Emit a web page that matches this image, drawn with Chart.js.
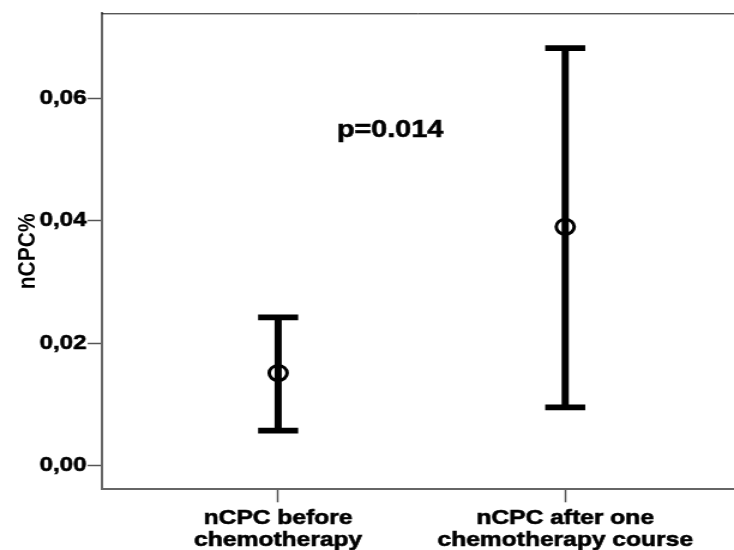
<!DOCTYPE html>
<html>
<head>
<meta charset="utf-8">
<script src="https://cdn.jsdelivr.net/npm/chart.js@4/dist/chart.umd.min.js"></script>
<style>
  html, body { margin: 0; padding: 0; background: #fff; }
  #c { display: block; width: 734px; height: 550px; }
</style>
</head>
<body>
<canvas id="c" width="612" height="550" style="width:734px;height:550px;"></canvas>
<script>
// ---- data ----
const categories = [["nCPC before", "chemotherapy"], ["nCPC after one", "chemotherapy course"]];
const categoryPositions = [1, 2];
const means = [0.0151, 0.0390];
const lowerCI = [0.0057, 0.0095];
const upperCI = [0.0242, 0.0682];
const yTickValues = [0, 0.02, 0.04, 0.06];
const yAxisTitle = "nCPC%";
const pLabel = { text: "p=0.014", x: 1.39, y: 0.0536 };

const FONT = '"Liberation Sans", Arial, sans-serif';

const meanPoints = means.map((m, i) => ({ x: categoryPositions[i], y: m }));
const capPoints = [];
lowerCI.forEach((v, i) => capPoints.push({ x: categoryPositions[i], y: v }));
upperCI.forEach((v, i) => capPoints.push({ x: categoryPositions[i], y: v }));
const whiskerSets = categoryPositions.map((p, i) => ({
  type: 'line',
  data: [{ x: p, y: lowerCI[i] }, { x: p, y: upperCI[i] }],
  borderColor: '#000',
  borderWidth: 6,
  pointRadius: 0,
  fill: false,
  order: 3
}));

const extras = {
  id: 'extras',
  afterDatasetsDraw(chart) {
    const { ctx, chartArea, scales } = chart;
    ctx.save();
    ctx.strokeStyle = '#111';
    ctx.lineWidth = 1;
    ctx.beginPath();
    ctx.moveTo(chartArea.left, chartArea.top + 0.5);
    ctx.lineTo(chartArea.right, chartArea.top + 0.5);
    ctx.stroke();
    ctx.font = 'bold 24px ' + FONT;
    ctx.fillStyle = '#000';
    ctx.strokeStyle = '#000';
    ctx.lineWidth = 0.6;
    ctx.textAlign = 'center';
    ctx.textBaseline = 'alphabetic';
    const px = scales.x.getPixelForValue(pLabel.x), py = scales.y.getPixelForValue(pLabel.y);
    ctx.fillText(pLabel.text, px, py);
    ctx.strokeText(pLabel.text, px, py);
    ctx.restore();
  }
};

new Chart(document.getElementById('c'), {
  type: 'scatter',
  data: {
    datasets: [
      {
        data: meanPoints,
        pointStyle: 'circle',
        pointRadius: 7.5,
        pointBorderWidth: 3,
        pointBorderColor: '#000',
        pointBackgroundColor: 'rgba(0,0,0,0)',
        order: 1
      },
      {
        data: capPoints,
        pointStyle: 'line',
        pointRadius: 16.7,
        pointBorderWidth: 5.7,
        pointBorderColor: '#000',
        order: 2
      },
      ...whiskerSets
    ]
  },
  options: {
    responsive: false,
    animation: false,
    devicePixelRatio: 1,
    layout: { autoPadding: false, padding: { left: 0, right: 0, top: 13.3, bottom: 0 } },
    plugins: { legend: { display: false }, tooltip: { enabled: false } },
    events: [],
    scales: {
      x: {
        type: 'linear',
        min: 0.3852,
        max: 2.588,
        afterBuildTicks(scale) { scale.ticks = categoryPositions.map(v => ({ value: v })); },
        afterFit(scale) { scale.height = 60.7; },
        grid: { display: true, drawOnChartArea: false, drawTicks: true, tickLength: 13, tickColor: '#555', tickWidth: 1.5 },
        border: { display: true, color: '#666', width: 2 },
        ticks: {
          autoSkip: false,
          maxRotation: 0,
          padding: 4.5,
          color: '#000',
          textStrokeColor: '#000',
          textStrokeWidth: 0.6,
          font: { family: FONT, size: 20.5, weight: 'bold', lineHeight: 1.08 },
          callback: (v) => categories[categoryPositions.indexOf(v)]
        }
      },
      y: {
        type: 'linear',
        min: -0.00389,
        max: 0.07389,
        afterBuildTicks(scale) { scale.ticks = yTickValues.map(v => ({ value: v })); },
        afterFit(scale) { scale.width = 84.75; },
        grid: { display: true, drawOnChartArea: false, drawTicks: true, tickLength: 11.7, tickColor: '#555', tickWidth: 1.5 },
        border: { display: true, color: '#666', width: 2 },
        ticks: {
          padding: 1,
          color: '#000',
          textStrokeColor: '#000',
          textStrokeWidth: 0.6,
          font: { family: FONT, size: 20, weight: 'bold' },
          callback: (v) => v.toFixed(2).replace('.', ',')
        },
        title: {
          display: true,
          text: yAxisTitle,
          color: '#000',
          font: { family: FONT, size: 21, weight: 'bold' },
          padding: { top: 10.5, bottom: 0 }
        }
      }
    }
  },
  plugins: [extras]
});
</script>
</body>
</html>
